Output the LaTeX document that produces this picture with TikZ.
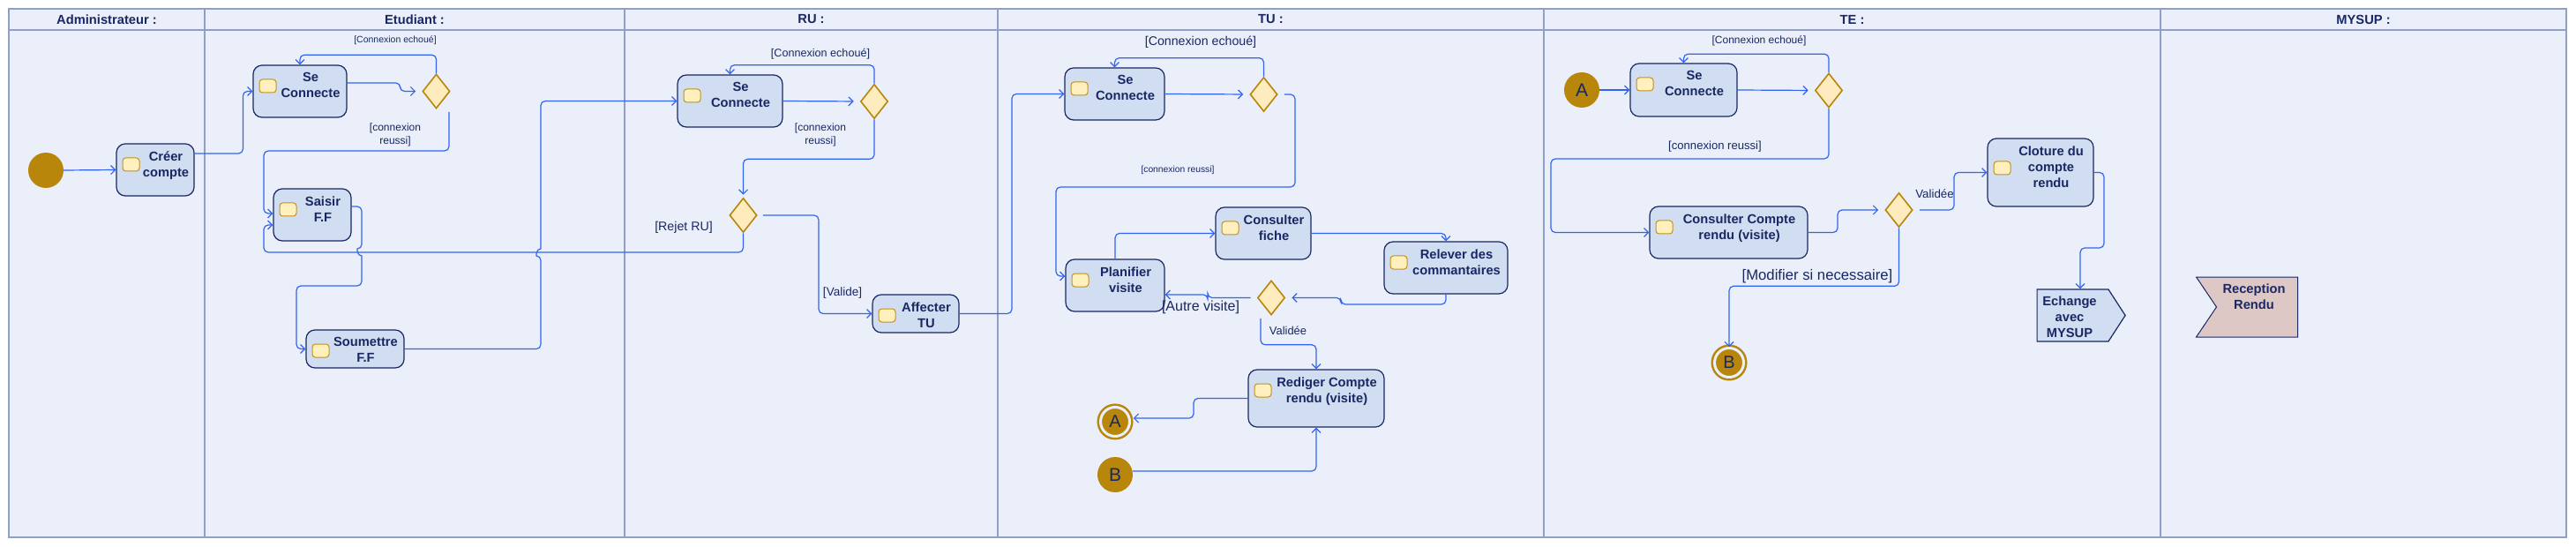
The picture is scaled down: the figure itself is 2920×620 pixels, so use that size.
\documentclass[tikz,border=0pt]{standalone}
\usepackage{fontspec}
\setmainfont{Liberation Sans}
\usepackage{tikz}
\definecolor{bahnblau}{RGB}{234,239,250}
\definecolor{bahnlinie}{RGB}{143,160,200}
\definecolor{aktfill}{RGB}{209,221,240}
\definecolor{dunkelblau}{RGB}{25,40,100}
\definecolor{ocker}{RGB}{184,134,11}
\definecolor{symbolrand}{RGB}{195,145,30}
\definecolor{symbolfill}{RGB}{255,240,190}
\definecolor{rautefill}{RGB}{255,236,190}
\definecolor{pfeilblau}{RGB}{50,100,240}
\definecolor{rosa}{RGB}{222,200,198}
\usetikzlibrary{shapes.geometric, shapes.symbols, arrows.meta}

\begin{document}
\begin{tikzpicture}[x=1pt, y=-1pt,
			>={Straight Barb[length=5pt,width=10pt]},   %Voreinstellung für Pfeilspitzen
			font=\fontsize{14.7}{18}\selectfont,
			symbol y/.store in=\symy, symbol y=16pt,
			symbol/.style={draw=symbolrand, fill=symbolfill, line width=1pt, rounded corners=3.5pt},
			akttext/.style={anchor=north, inner sep=0pt, align=center, text=dunkelblau, font=\fontsize{14.7}{18}\selectfont\bfseries},
			aktion/.style n args={3}{rectangle, rounded corners=10pt, draw=dunkelblau, line width=1.2pt, fill=aktfill,
				minimum width=#1, minimum height=#2, inner sep=0pt,
				path picture={\draw[symbol] ([shift={(7pt,-\symy)}]path picture bounding box.north west) rectangle ++(19pt,-15pt);},
				label={[akttext, xshift=12pt, yshift=-9pt]north:{#3}}},
			raute/.style={diamond, draw=ocker, line width=1.6pt, fill=rautefill, minimum width=31, minimum height=39, inner sep=0pt},
			start/.style={circle, fill=ocker, minimum size=40, inner sep=0pt, text=dunkelblau, font=\fontsize{21}{21}\selectfont},
			ende/.style={circle, draw=ocker, line width=2.5pt, double=bahnblau, double distance=3pt, fill=ocker, minimum size=33, inner sep=0pt, text=dunkelblau, font=\fontsize{20}{20}\selectfont},
			sende/.style={signal, signal to=east, signal pointer angle=114, draw=dunkelblau, line width=1.2pt, fill=aktfill, minimum width=100, minimum height=59, inner sep=0pt},
			empfang/.style={signal, signal to=nowhere, signal from=west, signal pointer angle=112, draw=dunkelblau, line width=1pt, fill=rosa, minimum width=115, minimum height=68, inner sep=0pt},
			fluss/.style={draw=pfeilblau, line width=1.2pt, rounded corners=5pt, ->},
			waechter/.style={text=dunkelblau, inner sep=0pt, align=center, font=\fontsize{#1}{15}\selectfont},
			kopf/.style={text=dunkelblau, inner sep=0pt, font=\fontsize{14.7}{18}\selectfont\bfseries}]
			\useasboundingbox (0,0) rectangle (2920,620);
			%Schwimmbahnen zeichnen
			\draw[fill=bahnblau, draw=bahnlinie, line width=1.2pt] (10,10) rectangle (2909,609);
			\draw[bahnlinie, line width=1.2pt] (10,34) -- (2909,34);
			\foreach \x in {232,708,1131,1750,2449} \draw[bahnlinie, line width=1.2pt] (\x,10) -- (\x,609);
			% Bahnen beschriften
			\foreach \x/\name [count=\i] in {121/Administrateur :, 470/Etudiant :, 919.5/RU :, 1440.5/TU :, 2099.5/TE :, 2679/MYSUP :}
				\node[kopf] (kopf\i) at (\x,22) {\name};
			% Administrateur und Etudiant
			\node[start] (startAdm) at (52,193) {};
			\node[aktion={88}{59}{Créer\\compte}] (creer) at (176,192.5) {};
			\node[aktion={106}{59}{Se\\Connecte}] (seEtu) at (340,103.5) {};
			\node[raute] (rEtu) at (494.5,103.5) {};
			\node[aktion={88}{59}{Saisir\\F.F}] (saisir) at (354,243.5) {};
			\node[aktion={111}{43}{Soumettre\\F.F}] (soumettre) at (402.5,395.5) {};
			% RU
			\node[aktion={119}{59}{Se\\Connecte}] (seRU) at (827.5,114.5) {};
			\node[raute] (rRU1) at (991,115) {};
			\node[raute] (rRU2) at (842.5,244) {};
			\node[aktion={98}{43}{Affecter\\TU}] (affecter) at (1038,355.5) {};
			% TU
			\node[aktion={113}{59}{Se\\Connecte}] (seTU) at (1263.5,106.5) {};
			\node[raute] (rTU1) at (1432.5,107) {};
			\node[aktion={112}{59}{Planifier\\visite}] (planifier) at (1264,323.5) {};
			\node[aktion={108}{59}{Consulter\\fiche}] (fiche) at (1432,264.5) {};
			\node[aktion={140}{59}{Relever des\\commantaires}] (relever) at (1639,303.5) {};
			\node[raute] (rTU2) at (1441,337.5) {};
			\node[aktion={154}{65}{Rediger Compte\\rendu (visite)}] (rediger) at (1492,451.5) {};
			\node[ende] (endeA) at (1264,478) {A};
			\node[start] (startB) at (1264,538) {B};
			% TE
			\node[start] (startA) at (1793,102) {A};
			\node[aktion={121}{60}{Se\\Connecte}] (seTE) at (1908.5,102) {};
			\node[raute] (rTE1) at (2073,102.5) {};
			\node[aktion={179}{59}{Consulter Compte\\rendu (visite)}] (consulter) at (1959.5,263.5) {};
			\node[raute] (rTE2) at (2152.5,238) {};
			\node[aktion={120}{77}{Cloture du\\compte\\rendu}, symbol y=26pt] (cloture) at (2313,195.5) {};
			\node[ende] (endeB) at (1960,411) {B};
			\node[sende, label={[akttext, xshift=-3.5pt, yshift=-8pt]north:{Echange\\avec\\MYSUP}}] (echange) at (2349.5,357.5) {};
			% MYSUP
			\node[empfang, label={[akttext, xshift=-3.5pt, yshift=-8pt]north:{Reception\\Rendu}}] (reception) at (2558.5,348) {};
			%Verbindungen zeichnen
			\draw[fluss] (startAdm.east) -- (creer.west);
			\draw[fluss] ([shift={(0,-18.5)}]creer.east) -| ([shift={(-11,0)}]seEtu.west) -- (seEtu.west);
			\draw[fluss, shorten >=7pt] ([shift={(0,-9.5)}]seEtu.east) -- ++(60,0) |- (rEtu.west);
			\draw[fluss] (rEtu.north) -- ++(0,-21) -| (seEtu.north);
			\draw[fluss] ([shift={(14.5,3)}]rEtu.south) |- (299,171) |- ([shift={(0,-1.5)}]saisir.west);
			\draw[fluss] ([shift={(0,-9.5)}]saisir.east) -| (410,282) [sharp corners] .. controls (404.7,282) and (404.7,290) .. (410,290) [rounded corners=5pt] |- (336,324) |- (soumettre.west);
			\draw[fluss] (soumettre.east) -| (613,290) [sharp corners] .. controls (607.7,290) and (607.7,282) .. (613,282) [rounded corners=5pt] |- (seRU.west);
			\draw[fluss, shorten >=7pt] (seRU.east) -- (rRU1.west);
			\draw[fluss] (rRU1.north) -- ++(0,-21) -| (seRU.north);
			\draw[fluss, shorten >=3pt] (rRU1.south) -- ++(0,45) -| (rRU2.north);
			\draw[fluss] (rRU2.south) |- (299,286) |- ([shift={(0,11.5)}]saisir.west);
			\draw[fluss] ([shift={(6,0)}]rRU2.east) -- (928,244) |- (affecter.west);
			\draw[fluss] (affecter.east) -- (1147,355.5) |- (seTU.west);
			\draw[fluss, shorten >=7pt] (seTU.east) -- (rTU1.west);
			\draw[fluss] (rTU1.north) -- ++(0,-21) -| (seTU.north);
			\draw[fluss] ([shift={(7,0)}]rTU1.east) -| (1468,212) -| (1197,313) -- ([shift={(0,-10.5)}]planifier.west);
			\draw[fluss] (planifier.north) |- (fiche.west);
			\draw[fluss] (fiche.east) -| (relever.north);
			\draw[fluss, shorten >=7pt] (relever.south) |- (1520,345) |- (rTU2.east);
			\draw[fluss] ([shift={(-7,0)}]rTU2.west) -- (1369,337.5) |- ([shift={(0,10.5)}]planifier.east);
			\draw[fluss] ([shift={(-12,3)}]rTU2.south) -- ++(0,30) -| (rediger.north);
			\draw[fluss] (rediger.west) -- (1353,451.5) |- ([shift={(3,-4)}]endeA.east);
			\draw[fluss] ([shift={(0,-4)}]startB.east) -| (rediger.south);
			\draw[fluss] (startA.east) -- (seTE.west);
			\draw[fluss, shorten >=7pt] (seTE.east) -- (rTE1.west);
			\draw[fluss] (rTE1.north) -- ++(0,-21) -| (seTE.north);
			\draw[fluss] (rTE1.south) |- (1758,180) |- (consulter.west);
			\draw[fluss, shorten >=7pt] (consulter.east) -- (2083,263.5) |- (rTE2.west);
			\draw[fluss] ([shift={(7,0)}]rTE2.east) -- (2215,238) |- (cloture.west);
			\draw[fluss] (rTE2.south) -- ++(0,66) -| (endeB.north);
			\draw[fluss] (cloture.east) -| (2385,281) -| ([shift={(8.5,0)}]echange.north);
			%Beschriftung der Kanten
			\node[waechter=10.5] (gEtu1) at (448,46) {[Connexion echoué]};
			\node[waechter=12] (gEtu2) at (448,152.5) {[connexion\\reussi]};
			\node[waechter=12.6] (gRU1) at (930,61) {[Connexion echoué]};
			\node[waechter=12] (gRU2) at (930,152.5) {[connexion\\reussi]};
			\node[waechter=14.2] (gRU3) at (775,258) {[Rejet RU]};
			\node[waechter=13.5] (gRU4) at (955,332) {[Valide]};
			\node[waechter=14.2] (gTU1) at (1361,48) {[Connexion echoué]};
			\node[waechter=10.3] (gTU2) at (1335,193) {[connexion reussi]};
			\node[waechter=16] (gTU3) at (1361,348) {[Autre visite]};
			\node[waechter=12.9] (gTU4) at (1460,375) {Validée};
			\node[waechter=12] (gTE1) at (1994,46) {[Connexion echoué]};
			\node[waechter=13.1] (gTE2) at (1944,166) {[connexion reussi]};
			\node[waechter=13.3] (gTE3) at (2193,220) {Validée};
			\node[waechter=16.7] (gTE4) at (2060,313) {[Modifier si necessaire]};
		\end{tikzpicture}
\end{document}
